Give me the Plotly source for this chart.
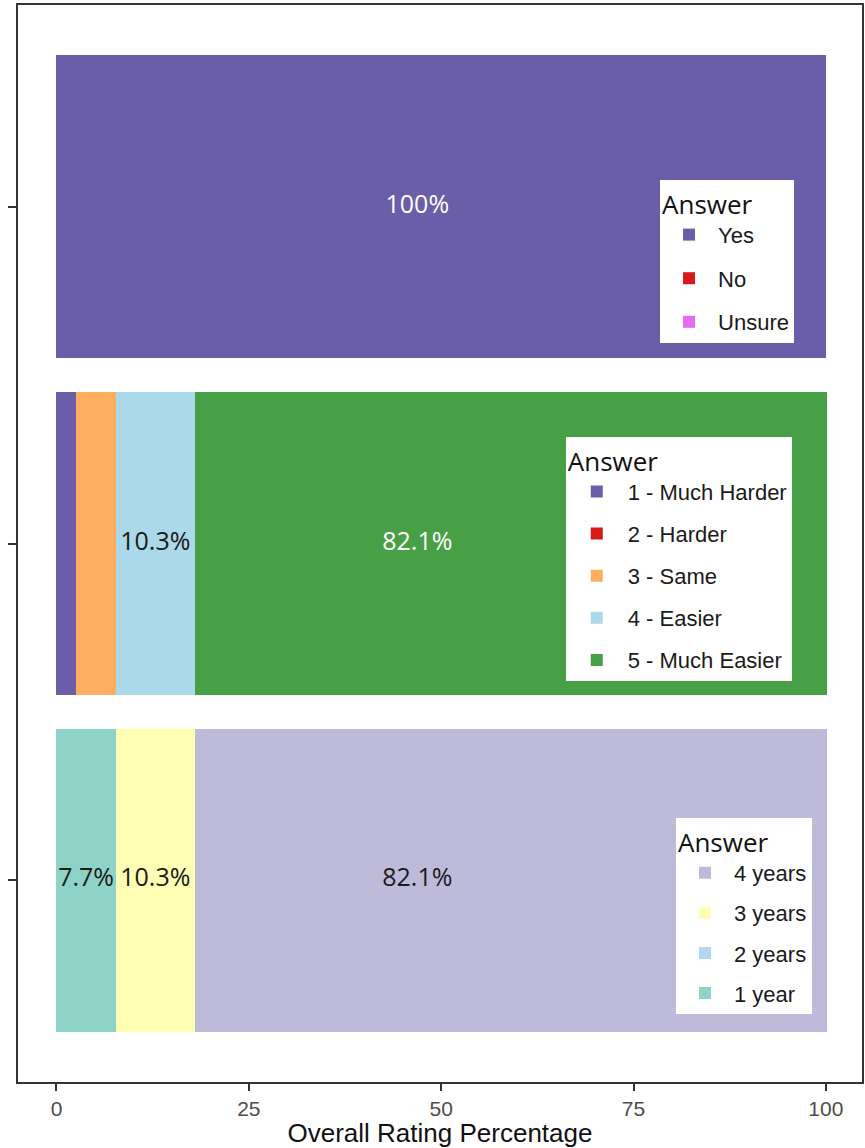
import plotly.graph_objects as go

# --- data -------------------------------------------------------------
questions = ['Years', 'Ease', 'Recommend']   # bottom -> top

recommend_answers = ['Yes', 'No', 'Unsure']
recommend_values = [100, 0, 0]

ease_answers = ['1 - Much Harder', '2 - Harder', '3 - Same', '4 - Easier', '5 - Much Easier']
ease_values = [2.6, 0, 5.1, 10.3, 82.1]

years_answers = ['1 year', '2 years', '3 years', '4 years']
years_values = [7.7, 0, 10.3, 82.1]

x_ticks = [0, 25, 50, 75, 100]

# --- styling ----------------------------------------------------------
colors = {
    'Yes': '#6A5EA8', 'No': '#D7191C', 'Unsure': '#E76BF0',
    '1 - Much Harder': '#6A5EA8', '2 - Harder': '#D7191C', '3 - Same': '#FDAE61',
    '4 - Easier': '#ABD9E9', '5 - Much Easier': '#48A046',
    '1 year': '#8DD3C7', '2 years': '#B3D7F0', '3 years': '#FFFFB3', '4 years': '#BEBADA',
}
white_text = {'Yes', '1 - Much Harder', '5 - Much Easier'}

LABEL_FONT = 'Open Sans, Noto Sans, sans-serif'
LEGEND_FONT = 'Liberation Sans, Arial, sans-serif'
MIN_LABEL = 7          # segments narrower than this get no label
WIDE_LABEL_X = 46.9    # labels of the big segments sit here (as in the original)

fig = go.Figure()


def add_group(question, answers, values, legend_id, reverse_legend=False):
    n = len(answers)
    start = 0
    lab_x, lab_t, lab_c = [], [], []
    for i, (ans, val) in enumerate(zip(answers, values)):
        fig.add_trace(go.Bar(
            y=[question],
            x=[val],
            orientation='h',
            name=ans,
            legend=legend_id,
            legendgroup=ans + legend_id,
            legendrank=(n - i) if reverse_legend else (i + 1),
            marker=dict(color=colors[ans], line=dict(width=0)),
            width=0.9,
            hoverinfo='name+x',
        ))
        if val >= MIN_LABEL:
            lab_x.append(start + val / 2 if val < 50 else WIDE_LABEL_X)
            lab_t.append(f'{val:g}%')
            lab_c.append('white' if ans in white_text else '#1a1a1a')
        start += val
    fig.add_trace(go.Scatter(
        x=lab_x,
        y=[question] * len(lab_x),
        mode='text',
        text=lab_t,
        textposition='middle center',
        textfont=dict(family=LABEL_FONT, size=25, color=lab_c),
        showlegend=False,
        hoverinfo='skip',
    ))


add_group('Years', years_answers, years_values, 'legend3', reverse_legend=True)
add_group('Ease', ease_answers, ease_values, 'legend2')
add_group('Recommend', recommend_answers, recommend_values, 'legend')

legend_style = dict(
    bgcolor='white',
    borderwidth=0,
    font=dict(family=LEGEND_FONT, size=22, color='#1a1a1a'),
    title=dict(text='Answer', font=dict(family=LABEL_FONT, size=26, color='#111')),
    xanchor='left',
    yanchor='top',
    traceorder='grouped',
    tracegroupgap=10,
    itemwidth=48,
)

fig.update_layout(
    width=865,
    height=1148,
    margin=dict(l=18, r=3, t=5, b=66),
    paper_bgcolor='white',
    plot_bgcolor='white',
    barmode='stack',
    showlegend=True,
    legend=dict(legend_style, x=0.7607, y=0.8375, tracegroupgap=12),
    legend2=dict(legend_style, x=0.649, y=0.599, itemwidth=52, tracegroupgap=10.5),
    legend3=dict(legend_style, x=0.7796, y=0.245, tracegroupgap=8.5),
    xaxis=dict(
        range=[-5, 104.7],
        tickvals=x_ticks,
        ticks='outside',
        ticklen=7,
        tickwidth=1.5,
        tickcolor='#333',
        tickfont=dict(family=LEGEND_FONT, size=21, color='#4d4d4d'),
        title=dict(text='Overall Rating Percentage',
                   font=dict(family=LEGEND_FONT, size=26, color='#111'),
                   standoff=2),
        automargin=False,
        showgrid=False,
        zeroline=False,
        showline=True,
        linecolor='#333',
        linewidth=1.5,
        mirror=True,
    ),
    yaxis=dict(
        categoryorder='array',
        categoryarray=questions,
        range=[-0.6, 2.6],
        ticks='outside',
        ticklen=8,
        tickwidth=1.5,
        tickcolor='#333',
        showticklabels=False,
        automargin=False,
        showgrid=False,
        zeroline=False,
        showline=True,
        linecolor='#333',
        linewidth=1.5,
        mirror=True,
    ),
)

# drop the browser's default 8px body margin so the figure fills the window
fig.write_html('out.html', config={'displayModeBar': False},
               post_script="document.body.style.margin = '0';")
